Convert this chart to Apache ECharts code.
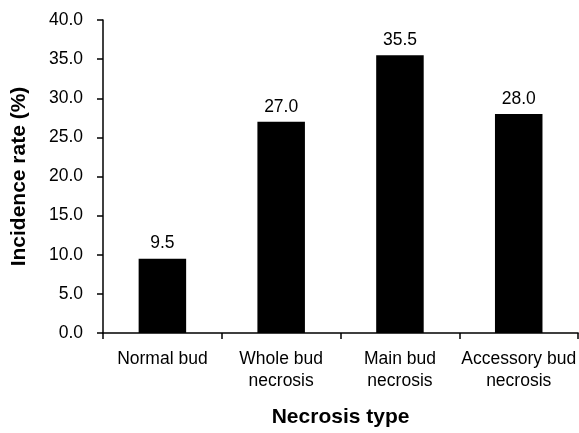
<!DOCTYPE html>
<html><head><meta charset="utf-8">
<script src="https://cdn.jsdelivr.net/npm/echarts@6/dist/echarts.min.js"></script>
<style>html,body{margin:0;padding:0;background:#fff}#c{width:579px;height:433px}</style>
</head><body><div id="c"></div>
<script>
const categories = ["Normal bud", "Whole bud\nnecrosis", "Main bud\nnecrosis", "Accessory bud\nnecrosis"];
const values = [9.5, 27.0, 35.5, 28.0];
const yTicks = [0, 5, 10, 15, 20, 25, 30, 35, 40];

const chart = echarts.init(document.getElementById('c'), null, {renderer: 'canvas'});
const font = 'Liberation Sans, Arial, Helvetica, sans-serif';
chart.setOption({
  animation: false,
  grid: {left: 103, right: 0, top: 20, bottom: 96, containLabel: false},
  xAxis: {
    type: 'category', data: categories,
    axisLine: {lineStyle: {color: '#000', width: 1.5}},
    axisTick: {show: true, length: 6, lineStyle: {color: '#000', width: 1.5}},
    axisLabel: {color: '#000', fontSize: 17.5, fontFamily: font, margin: 15, lineHeight: 22, interval: 0},
    name: 'Necrosis type', nameLocation: 'middle', nameGap: 74,
    nameTextStyle: {color: '#000', fontSize: 21, fontWeight: 'bold', fontFamily: font}
  },
  yAxis: {
    type: 'value', min: yTicks[0], max: yTicks[yTicks.length - 1], interval: 5,
    splitLine: {show: false},
    axisLine: {show: true, lineStyle: {color: '#000', width: 1.5}},
    axisTick: {show: true, length: 6, lineStyle: {color: '#000', width: 1.5}},
    axisLabel: {color: '#000', fontSize: 17.5, fontFamily: font, margin: 20, formatter: v => v.toFixed(1)},
    name: 'Incidence rate (%)', nameLocation: 'middle', nameGap: 73,
    nameTextStyle: {color: '#000', fontSize: 21, fontWeight: 'bold', fontFamily: font}
  },
  series: [{
    type: 'bar', data: values, barWidth: '40%',
    itemStyle: {color: '#000'},
    label: {show: true, position: 'top', distance: 6, color: '#000', fontSize: 17.5, fontFamily: font,
      formatter: p => p.value.toFixed(1)}
  }]
});
</script></body></html>
